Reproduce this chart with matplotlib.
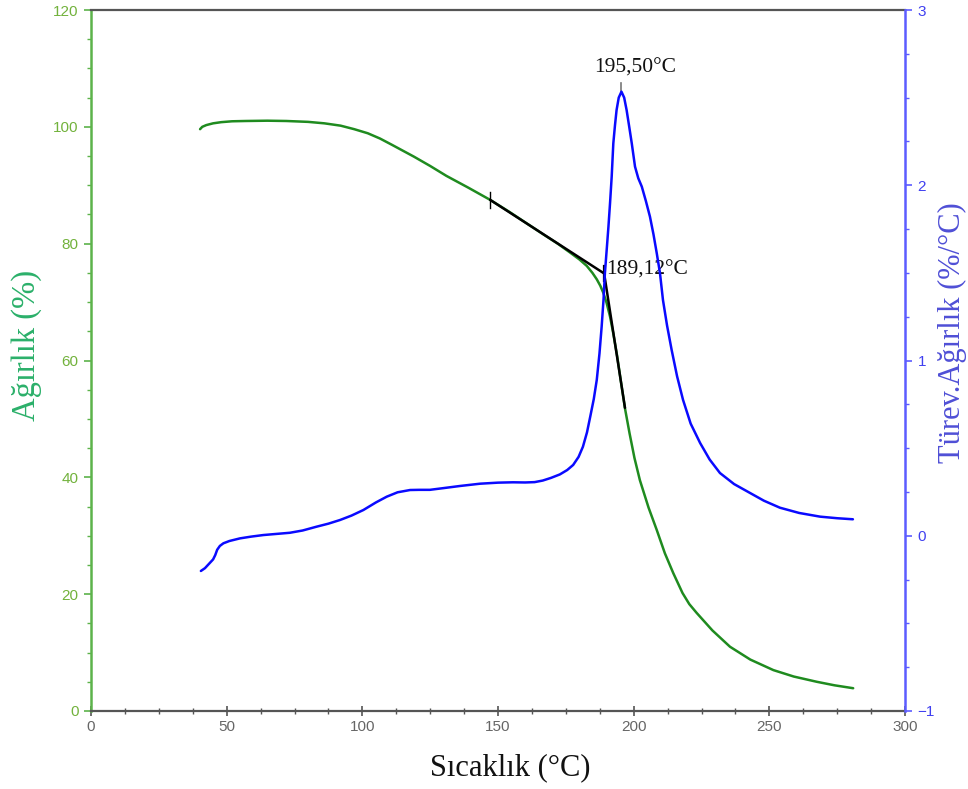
import matplotlib
matplotlib.use("Agg")
import matplotlib.pyplot as plt
from matplotlib.ticker import MultipleLocator

# Thermogravimetric (TGA) weight curve
temp_tga = [40.2, 41.0, 42.5, 45.0, 48.0, 52.0, 57.0, 65.0, 72.0, 80.0, 86.0,
            92.0, 97.0, 102.0, 106.5, 111.0, 115.0, 119.0, 125.0, 131.0, 139.0,
            147.1, 154.0, 161.8, 167.0, 172.0, 176.5, 180.0, 182.7, 184.8,
            186.4, 187.7, 188.8, 190.0, 191.3, 192.5, 193.9, 195.3, 196.8,
            198.5, 200.3, 202.3, 205.5, 208.5, 211.5, 214.6, 218.0, 220.5,
            223.2, 229.0, 235.5, 243.0, 251.5, 259.0, 267.5, 274.0, 280.9]
weight = [99.6, 100.0, 100.3, 100.6, 100.8, 100.95, 101.0, 101.05, 101.0, 100.85,
          100.6, 100.2, 99.6, 98.9, 98.0, 96.9, 95.9, 94.9, 93.3, 91.6, 89.6,
          87.5, 85.5, 83.1, 81.5, 80.0, 78.5, 77.3, 76.2, 75.0,
          73.9, 72.8, 71.6, 69.9, 67.5, 64.6, 60.8, 56.4, 51.8,
          47.5, 43.3, 39.5, 34.8, 31.0, 27.0, 23.6, 20.2, 18.3,
          16.8, 13.8, 11.0, 8.8, 7.0, 5.9, 5.0, 4.4, 3.9]

# Derivative weight (DTG) curve
temp_dtg = [40.5, 42.0, 43.5, 45.0, 45.8, 46.5, 47.5, 48.8, 51.0, 54.9, 59.0,
            63.5, 68.0, 73.3, 78.0, 83.2, 87.5, 91.8, 96.0, 100.4, 105.0,
            109.0, 113.0, 117.6, 121.0, 124.9, 130.0, 136.0, 143.4, 150.0,
            155.5, 160.0, 163.5, 166.5, 169.5, 172.8, 175.5, 177.7, 179.7,
            181.3, 182.8, 184.0, 185.3, 186.4, 187.4, 188.2, 188.9, 189.4,
            190.1, 190.7, 191.3, 191.9, 192.5, 193.1, 193.7, 194.5, 195.5,
            196.5, 197.4, 198.4, 199.3, 200.5, 201.7, 203.0, 204.5, 206.0,
            207.3, 208.5, 209.7, 210.8, 212.3, 214.0, 216.0, 218.2, 221.0,
            224.5, 228.0, 231.8, 237.0, 242.9, 248.0, 253.9, 261.0, 268.7,
            275.0, 280.8]
deriv = [-0.201, -0.185, -0.160, -0.135, -0.110, -0.080, -0.058, -0.043, -0.030,
         -0.015, -0.005, 0.004, 0.010, 0.017, 0.030, 0.052, 0.069, 0.090, 0.115,
         0.147, 0.190, 0.223, 0.248, 0.261, 0.262, 0.262, 0.272, 0.284, 0.297,
         0.303, 0.305, 0.304, 0.306, 0.315, 0.330, 0.350, 0.375, 0.404, 0.450,
         0.508, 0.590, 0.680, 0.780, 0.889, 1.040, 1.193, 1.350, 1.498,
         1.640, 1.763, 1.900, 2.049, 2.239, 2.340, 2.429, 2.500, 2.534,
         2.500, 2.429, 2.330, 2.239, 2.106, 2.040, 1.992, 1.910, 1.821,
         1.720, 1.613, 1.498, 1.345, 1.200, 1.060, 0.910, 0.775, 0.640,
         0.529, 0.435, 0.358, 0.295, 0.244, 0.200, 0.160, 0.130, 0.109,
         0.100, 0.094]

# Onset construction (two tangents meeting at the onset temperature)
onset_temp = 189.12
onset_weight = 74.9
tangent1_temp = [147.1, onset_temp]
tangent1_weight = [87.5, onset_weight]
tangent2_temp = [onset_temp, 196.8]
tangent2_weight = [onset_weight, 51.9]

# DTG peak
peak_temp = 195.50
peak_deriv = 2.534

onset_text = "189,12°C"
peak_text = "195,50°C"

x_label = "Sıcaklık (°C)"
y_label = "Ağırlık (%)"
y2_label = "Türev.Ağırlık (%/°C)"

GREEN_CURVE = "#1f8b1f"
BLUE_CURVE = "#0a0aff"
GREEN_AXIS = "#5cb34a"
GREEN_TICK = "#72b23c"
GREEN_LABEL = "#2bb06a"
BLUE_AXIS = "#5c5cff"
BLUE_TICK = "#4040f0"
BLUE_LABEL = "#4f4fd6"
GRAY = "#555555"

serif = "Liberation Serif"
sans = "Liberation Sans"

fig = plt.figure(figsize=(9.68, 7.89), dpi=100)
ax = fig.add_axes([91 / 968, 1 - 711 / 789, 814 / 968, 701 / 789])
ax2 = ax.twinx()

line_kw = dict(lw=1.8, solid_joinstyle="round", solid_capstyle="round")

# curves
ax.plot(temp_tga, weight, color=GREEN_CURVE, zorder=3, **line_kw)
ax.plot(tangent1_temp, tangent1_weight, color="black", zorder=4, **line_kw)
ax.plot(tangent2_temp, tangent2_weight, color="black", zorder=4, **line_kw)
ax.plot([tangent1_temp[0]] * 2, [tangent1_weight[0] - 1.4, tangent1_weight[0] + 1.4],
        color="black", lw=1.0, zorder=4)
ax.plot([onset_temp] * 2, [onset_weight - 1.3, onset_weight + 1.3],
        color="black", lw=1.6, zorder=4)
ax.text(onset_temp + 0.9, onset_weight + 0.6, onset_text, family=serif,
        fontsize=15.5, color="#111111", ha="left", va="center", zorder=5)

ax2.plot(temp_dtg, deriv, color=BLUE_CURVE, zorder=3, **line_kw)
ax2.plot([peak_temp] * 2, [peak_deriv, peak_deriv + 0.05], color="#777777", lw=1.2)
ax2.text(peak_temp + 5.2, peak_deriv + 0.135, peak_text, family=serif,
         fontsize=15.5, color="#111111", ha="center", va="center")

# limits and ticks
ax.set_xlim(0, 300)
ax.set_ylim(0, 120)
ax2.set_ylim(-1, 3)
ax.xaxis.set_major_locator(MultipleLocator(50))
ax.xaxis.set_minor_locator(MultipleLocator(12.5))
ax.yaxis.set_major_locator(MultipleLocator(20))
ax.yaxis.set_minor_locator(MultipleLocator(5))
ax2.yaxis.set_major_locator(MultipleLocator(1))
ax2.yaxis.set_minor_locator(MultipleLocator(0.25))

# spines
for s in ("top", "bottom"):
    ax.spines[s].set_color(GRAY)
    ax.spines[s].set_linewidth(1.6)
ax.spines["left"].set_color(GREEN_AXIS)
ax.spines["left"].set_linewidth(1.8)
ax.spines["right"].set_visible(False)
for s in ("top", "bottom", "left"):
    ax2.spines[s].set_visible(False)
ax2.spines["right"].set_color(BLUE_AXIS)
ax2.spines["right"].set_linewidth(1.8)

ax.tick_params(axis="x", which="major", direction="inout", length=7, width=1.2,
               color=GRAY, labelcolor="#666666", labelsize=11, pad=3)
ax.tick_params(axis="x", which="minor", direction="inout", length=5, width=1.0,
               color=GRAY)
ax.tick_params(axis="y", which="major", direction="out", length=5, width=1.2,
               color=GREEN_AXIS, labelcolor=GREEN_TICK, labelsize=11, pad=4)
ax.tick_params(axis="y", which="minor", direction="out", length=3, width=1.0,
               color=GREEN_AXIS)
ax2.tick_params(axis="y", which="major", direction="out", length=5, width=1.2,
                color=BLUE_AXIS, labelcolor=BLUE_TICK, labelsize=11, pad=4)
ax2.tick_params(axis="y", which="minor", direction="out", length=3, width=1.0,
                color=BLUE_AXIS)
for lbl in ax.get_xticklabels() + ax.get_yticklabels() + ax2.get_yticklabels():
    lbl.set_family(sans)

# axis titles
ax.set_xlabel(x_label, family=serif, fontsize=22, color="#111111")
ax.xaxis.label.set_va("center")
ax.xaxis.set_label_coords((510 - 91) / 814, (711 - 768) / 701)

ax.set_ylabel(y_label, family=serif, fontsize=23.5, color=GREEN_LABEL)
ax.yaxis.label.set_va("center")
ax.yaxis.set_label_coords((27 - 91) / 814, 0.522)

ax2.set_ylabel(y2_label, family=serif, fontsize=22, color=BLUE_LABEL, rotation=90)
ax2.yaxis.label.set_va("center")
ax2.yaxis.set_label_coords((952 - 91) / 814, 0.54)

fig.savefig("out.png", dpi=100)
